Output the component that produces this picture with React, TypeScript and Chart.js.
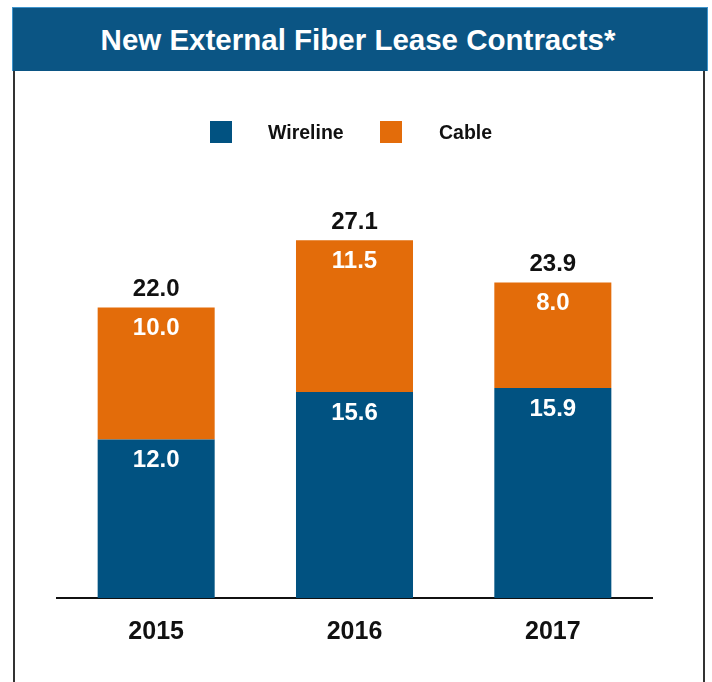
import React, { useEffect, useRef } from "react";
import { Chart, registerables } from "chart.js";

Chart.register(...registerables);

const categories = ["2015", "2016", "2017"];
const wireline = [12.0, 15.6, 15.9];
const cable = [10.0, 11.5, 8.0];
const totals = [22.0, 27.1, 23.9];
const seriesNames = ["Wireline", "Cable"];
const titleText = "New External Fiber Lease Contracts*";

const BLUE = "#015281";
const ORANGE = "#E36C0A";
const FONT = "'Liberation Sans', Arial, Helvetica, sans-serif";

const labelPlugin = {
  id: "valueLabels",
  afterDatasetsDraw(chart: any) {
    const ctx = chart.ctx;
    ctx.save();
    ctx.font = `bold 24px ${FONT}`;
    ctx.textAlign = "center";
    ctx.textBaseline = "middle";
    chart.data.datasets.forEach((ds: any, di: number) => {
      const meta = chart.getDatasetMeta(di);
      meta.data.forEach((el: any, i: number) => {
        ctx.fillStyle = "#ffffff";
        ctx.fillText(Number(ds.data[i]).toFixed(1), el.x, el.y + 21);
        if (di === chart.data.datasets.length - 1) {
          ctx.fillStyle = "#111111";
          ctx.fillText(totals[i].toFixed(1), el.x, el.y - 18);
        }
      });
    });
    ctx.restore();
  },
};

export default function App() {
  const canvasRef = useRef<HTMLCanvasElement | null>(null);

  useEffect(() => {
    if (!canvasRef.current) return;
    const chart = new Chart(canvasRef.current, {
      type: "bar",
      data: {
        labels: categories,
        datasets: [
          { label: seriesNames[0], data: wireline, backgroundColor: BLUE, barPercentage: 0.59, categoryPercentage: 1 },
          { label: seriesNames[1], data: cable, backgroundColor: ORANGE, barPercentage: 0.59, categoryPercentage: 1 },
        ],
      },
      options: {
        animation: false,
        responsive: false,
        maintainAspectRatio: false,
        layout: { padding: { left: 57, right: 60, top: 202, bottom: 16 } },
        plugins: {
          legend: { display: false },
          title: { display: false },
          tooltip: { enabled: false },
        },
        scales: {
          x: {
            stacked: true,
            grid: { display: false, drawTicks: false },
            border: { display: true, color: "#111111", width: 2 },
            ticks: {
              color: "#111111",
              font: { family: FONT, size: 25, weight: "bold" },
              padding: 19,
            },
          },
          y: {
            stacked: true,
            display: false,
            min: 0,
            max: 30,
          },
        },
      },
      plugins: [labelPlugin],
    });
    return () => chart.destroy();
  }, []);

  return (
    <div style={{ position: "absolute", left: 0, top: 0, width: 712, height: 682, overflow: "hidden", background: "#ffffff", fontFamily: FONT }}>
      <div
        style={{
          position: "absolute",
          left: 12,
          top: 7,
          width: 696,
          height: 64,
          boxSizing: "border-box",
          background: "#0B5584",
          border: "1px solid #3f94cc",
          borderBottom: "none",
          color: "#ffffff",
          fontWeight: "bold",
          fontSize: 29.5,
          display: "flex",
          alignItems: "center",
          justifyContent: "center",
          whiteSpace: "nowrap",
          paddingRight: 4,
        }}
      >
        {titleText}
      </div>
      <div
        style={{
          position: "absolute",
          left: 13,
          top: 71,
          width: 692,
          height: 640,
          boxSizing: "border-box",
          borderLeft: "2px solid #333333",
          borderRight: "2px solid #333333",
        }}
      />
      <canvas ref={canvasRef} width={712} height={682} style={{ position: "absolute", left: 0, top: 0, width: 712, height: 682 }} />
      {[0, 1].map((k) => (
        <React.Fragment key={k}>
          <div
            style={{
              position: "absolute",
              left: k === 0 ? 210 : 380,
              top: 121,
              width: 22,
              height: 22,
              background: k === 0 ? BLUE : ORANGE,
            }}
          />
          <div
            style={{
              position: "absolute",
              left: k === 0 ? 268 : 439,
              top: 121,
              height: 22,
              lineHeight: "22px",
              fontSize: 19.5,
              fontWeight: "bold",
              color: "#111111",
              whiteSpace: "nowrap",
            }}
          >
            {seriesNames[k]}
          </div>
        </React.Fragment>
      ))}
    </div>
  );
}
